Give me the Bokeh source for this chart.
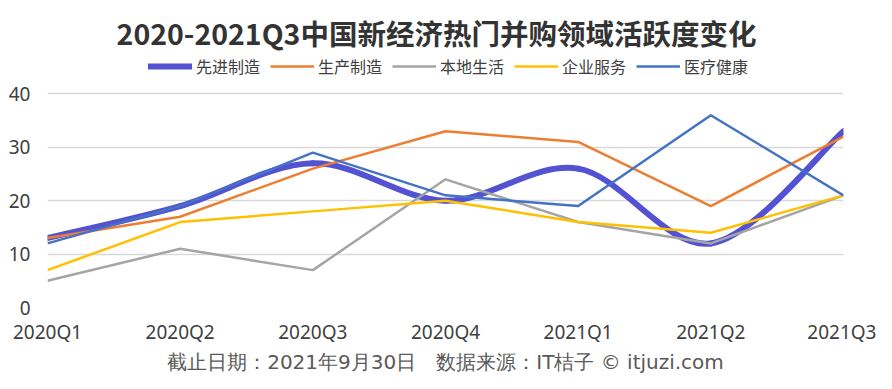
from bokeh.plotting import figure
from bokeh.models import Legend, LegendItem, FixedTicker, Range1d, Title, Label
from bokeh.embed import file_html
from bokeh.resources import INLINE
import numpy as np

quarters = ["2020Q1", "2020Q2", "2020Q3", "2020Q4", "2021Q1", "2021Q2", "2021Q3"]
series_names = ["先进制造", "生产制造", "本地生活", "企业服务", "医疗健康"]
adv_mfg = [13, 19, 27, 20, 26, 12, 33]
prod_mfg = [13, 17, 26, 33, 31, 19, 32]
local_life = [5, 11, 7, 24, 16, 12, 21]
ent_service = [7, 16, 18, 20, 16, 14, 21]
healthcare = [12, 19, 29, 21, 19, 36, 21]
y_ticks = [0, 10, 20, 30, 40]

title_text = "2020-2021Q3中国新经济热门并购领域活跃度变化"
footer_text = "截止日期：2021年9月30日　数据来源：IT桔子 © itjuzi.com"

colors = ["#5352D3", "#ED7D31", "#A5A5A5", "#FFC000", "#4472C4"]
FONT = "Noto Sans CJK SC"
LATIN = "Noto Sans"
FOOT = "DejaVu Sans"

# layout (pixels): frame spans x 47..843, y 0..309 ; value 40 sits 94px from top
FRAME_H = 309
PX_PER_UNIT = 215 / 40.0
y_top = 40 + 94 / PX_PER_UNIT
x_px = 796 / 6.0

p = figure(width=876, height=373, output_backend="svg", toolbar_location=None,
           x_range=Range1d(0, len(quarters) - 1), y_range=Range1d(0, y_top),
           min_border_left=47, min_border_right=33, min_border_top=0, min_border_bottom=64)
p.outline_line_color = None
p.background_fill_color = "white"
p.border_fill_color = "white"

xs = list(range(len(quarters)))

# smoothed series (Excel-like smoothing via Catmull-Rom bezier segments)
ya = np.array(adv_mfg, dtype=float)
xa = np.array(xs, dtype=float)
n = len(ya)
x0, y0, x1, y1, cx0, cy0, cx1, cy1 = [], [], [], [], [], [], [], []
for i in range(n - 1):
    im1 = max(i - 1, 0)
    ip2 = min(i + 2, n - 1)
    x0.append(xa[i]); y0.append(ya[i]); x1.append(xa[i + 1]); y1.append(ya[i + 1])
    cx0.append(xa[i] + (xa[i + 1] - xa[im1]) / 6.0)
    cy0.append(ya[i] + (ya[i + 1] - ya[im1]) / 6.0)
    cx1.append(xa[i + 1] - (xa[ip2] - xa[i]) / 6.0)
    cy1.append(ya[i + 1] - (ya[ip2] - ya[i]) / 6.0)
p.bezier(x0=x0, y0=y0, x1=x1, y1=y1, cx0=cx0, cy0=cy0, cx1=cx1, cy1=cy1,
         line_color=colors[0], line_width=6, line_cap="round")
leg0 = p.line(x=xs[:1], y=adv_mfg[:1], line_color=colors[0], line_width=6, line_cap="round")

renderers = [leg0]
for vals, c in zip([prod_mfg, local_life, ent_service, healthcare], colors[1:]):
    r = p.line(x=xs, y=vals, line_color=c, line_width=2.5, line_join="round")
    renderers.append(r)

legend = Legend(items=[LegendItem(label=nm, renderers=[r]) for nm, r in zip(series_names, renderers)],
                orientation="horizontal", location=(101, FRAME_H - 80),
                glyph_width=44, glyph_height=20, label_standoff=4, spacing=10,
                padding=0, margin=0, label_height=20,
                label_text_font=FONT, label_text_font_size="16px", label_text_color="#404040",
                border_line_alpha=0, background_fill_alpha=0)
p.add_layout(legend)

# title inside the (extended) frame
p.add_layout(Label(x=(436 - 47) / x_px, y=40 + (94 - 32) / PX_PER_UNIT, text=title_text,
                   text_align="center", text_baseline="middle", text_font=FONT,
                   text_font_size="28.5px", text_font_style="bold", text_color="#333333"))

# axes
p.xaxis.ticker = FixedTicker(ticks=xs)
p.xaxis.major_label_overrides = {i: q for i, q in enumerate(quarters)}
p.yaxis.ticker = FixedTicker(ticks=y_ticks)
for ax in (p.xaxis, p.yaxis):
    ax.axis_line_color = None
    ax.major_tick_line_color = None
    ax.minor_tick_line_color = None
    ax.major_tick_in = 0
    ax.major_tick_out = 0
    ax.major_label_text_font = LATIN
    ax.major_label_text_font_size = "19px"
    ax.major_label_text_color = "#404040"
p.xaxis.major_label_standoff = 11
p.yaxis.major_label_standoff = 17
p.xgrid.grid_line_color = None
p.ygrid.grid_line_color = "#D9D9D9"
p.ygrid.grid_line_width = 1.5

# footer
p.add_layout(Title(text=footer_text, align="center", offset=-1, standoff=0,
                   text_font=FOOT, text_font_size="20px", text_font_style="normal",
                   text_color="#595959"), "below")

open("out.html", "w").write(file_html(p, INLINE))
